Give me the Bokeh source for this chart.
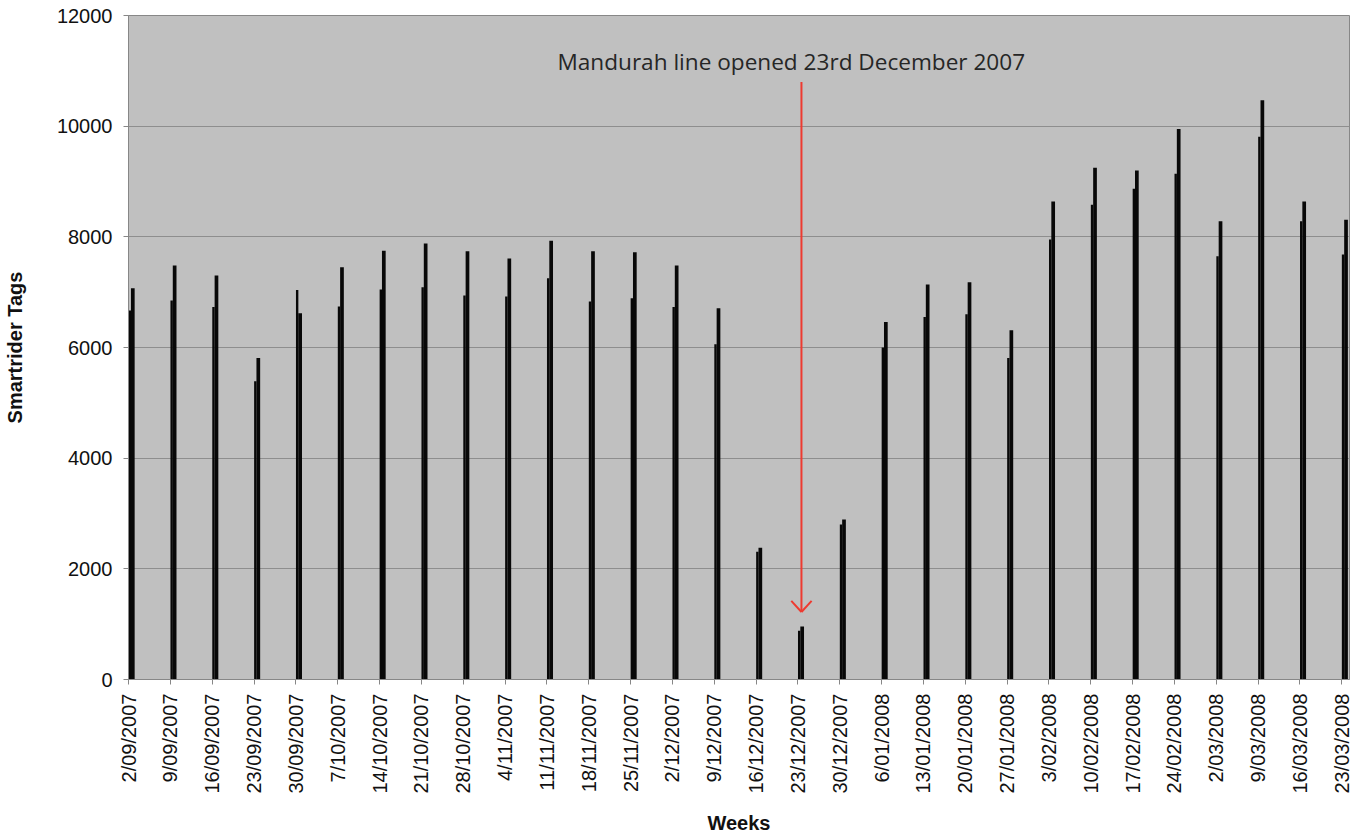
import math
import pandas as pd
from bokeh.plotting import figure
from bokeh.models import Range1d, FixedTicker, Label, ColumnDataSource
from bokeh.embed import file_html
from bokeh.resources import INLINE

# ---------------- data ----------------
weeks = ["2/09/2007", "9/09/2007", "16/09/2007", "23/09/2007", "30/09/2007",
         "7/10/2007", "14/10/2007", "21/10/2007", "28/10/2007", "4/11/2007",
         "11/11/2007", "18/11/2007", "25/11/2007", "2/12/2007", "9/12/2007",
         "16/12/2007", "23/12/2007", "30/12/2007", "6/01/2008", "13/01/2008",
         "20/01/2008", "27/01/2008", "3/02/2008", "10/02/2008", "17/02/2008",
         "24/02/2008", "2/03/2008", "9/03/2008", "16/03/2008", "23/03/2008"]

series_a = [6670, 6850, 6730, 5390, 7040, 6740, 7050, 7090, 6940, 6920,
            7250, 6830, 6890, 6730, 6060, 2310, 880, 2800, 6000, 6550,
            6600, 5810, 7950, 8580, 8870, 9140, 7650, 9810, 8280, 7680]

series_b = [7070, 7480, 7300, 5810, 6620, 7450, 7750, 7880, 7740, 7610,
            7930, 7740, 7720, 7480, 6710, 2380, 960, 2890, 6460, 7140,
            7180, 6310, 8640, 9250, 9200, 9950, 8280, 10470, 8640, 8310]

y_ticks = [0, 2000, 4000, 6000, 8000, 10000, 12000]

annotation_text = "Mandurah line opened 23rd December 2007"
opening_date = "23/12/2007"

# ---------------- derived ----------------
dates = pd.to_datetime(weeks, dayfirst=True)
day = [int((d - dates[0]).days) for d in dates]
last_day = day[-1]

src = ColumnDataSource(dict(
    xa=[d + 0.22 for d in day], a=series_a,
    xb=[d + 0.72 for d in day], b=series_b,
))

FONT = "Liberation Sans"
TXT = "#111111"
AX = "#878787"
RED = "#ee3a30"

p = figure(width=1353, height=836, output_backend="svg", toolbar_location=None,
           x_range=Range1d(0, last_day + 1.3), y_range=Range1d(0, 12000),
           min_border_left=122, min_border_right=4, min_border_top=15,
           min_border_bottom=154)

p.background_fill_color = "#c0c0c0"
p.border_fill_color = "white"
p.outline_line_color = AX
p.outline_line_width = 1

p.vbar(x="xa", top="a", width=0.40, bottom=0, source=src,
       fill_color="#080808", line_color=None)
p.vbar(x="xb", top="b", width=0.62, bottom=0, source=src,
       fill_color="#080808", line_color=None)

# grid
p.xgrid.visible = False
p.ygrid.grid_line_color = "#8e8e8e"
p.ygrid.grid_line_width = 1
p.ygrid.ticker = FixedTicker(ticks=y_ticks)

# y axis
p.yaxis.ticker = FixedTicker(ticks=y_ticks)
p.yaxis.axis_label = "Smartrider Tags"
p.yaxis.axis_label_text_font = FONT
p.yaxis.axis_label_text_font_style = "bold"
p.yaxis.axis_label_text_font_size = "20px"
p.yaxis.axis_label_text_color = TXT
p.yaxis.axis_label_standoff = 28
p.yaxis.major_label_text_font = FONT
p.yaxis.major_label_text_font_size = "20px"
p.yaxis.major_label_text_color = TXT
p.yaxis.major_label_standoff = 11

# x axis
p.xaxis.ticker = FixedTicker(ticks=day)
p.xaxis.major_label_overrides = {d: w for d, w in zip(day, weeks)}
p.xaxis.major_label_orientation = math.pi / 2
p.xaxis.axis_label = "Weeks"
p.xaxis.axis_label_text_font = FONT
p.xaxis.axis_label_text_font_style = "bold"
p.xaxis.axis_label_text_font_size = "20px"
p.xaxis.axis_label_text_color = TXT
p.xaxis.axis_label_standoff = 15
p.xaxis.major_label_text_font = FONT
p.xaxis.major_label_text_font_size = "20px"
p.xaxis.major_label_text_color = TXT
p.xaxis.major_label_standoff = 9

for ax in (p.xaxis, p.yaxis):
    ax.axis_line_color = AX
    ax.major_tick_line_color = AX
    ax.major_tick_out = 5
    ax.major_tick_in = 0
    ax.minor_tick_line_color = None

# annotation (arrow pointing at the opening week)
open_day = int((pd.to_datetime(opening_date, dayfirst=True) - dates[0]).days)
ax_x = open_day + 0.6
tip_y = 1220
top_y = 10800
wing_dx = 1.7     # ~10 px in days
wing_dy = 200     # ~11 px in units
p.segment(x0=[ax_x], y0=[top_y], x1=[ax_x], y1=[tip_y],
          line_color=RED, line_width=2)
p.segment(x0=[ax_x - wing_dx, ax_x + wing_dx], y0=[tip_y + wing_dy] * 2,
          x1=[ax_x, ax_x], y1=[tip_y, tip_y], line_color=RED, line_width=2)

p.add_layout(Label(x=open_day - 1.1, y=11170, text=annotation_text,
                   text_font="Open Sans", text_font_size="22.6px",
                   text_color="#262626", text_align="center",
                   text_baseline="middle"))

open("out.html", "w").write(file_html(p, INLINE))
